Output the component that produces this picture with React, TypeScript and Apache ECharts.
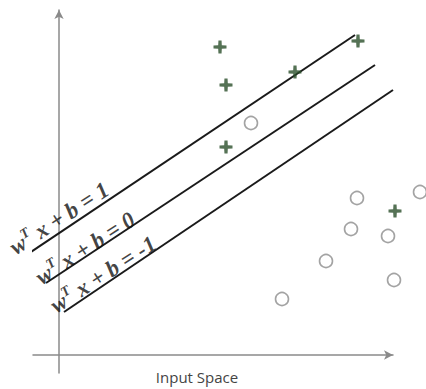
import React, { useEffect, useRef } from "react";
import * as echarts from "echarts";

// Positive class (+) points
const plusX = [161, 167, 236, 299, 167, 336];
const plusY = [308, 270, 283, 314, 208, 144];
// Negative class (o) points
const circleX = [192, 298, 361, 292, 329, 267, 335, 223];
const circleY = [232, 157, 163, 126, 119, 94, 75, 56];
// Hyperplanes: [x0, y0, x1, y1]
const lineNames = ["1", "0", "-1"];
const lineStartX = [-31, -13, 5];
const lineStartY = [101, 72, 43];
const lineEndX = [296, 316, 334];
const lineEndY = [320, 290, 265];
// Label anchors
const labelX = [0, 26, 44];
const labelY = [137, 107, 81];
const xLabel = "Input Space";

export default function App() {
  const ref = useRef<HTMLDivElement>(null);
  useEffect(() => {
    if (!ref.current) return;
    const chart = echarts.init(ref.current, null, { renderer: "svg" });
    const lineSeries = lineNames.map((n, i) => ({
      type: "line",
      name: "b=" + n,
      data: [
        [lineStartX[i], lineStartY[i]],
        [lineEndX[i], lineEndY[i]],
      ],
      symbol: "none",
      clip: false,
      lineStyle: { color: "#1a1a1a", width: 2 },
      z: 2,
    }));
    const serif = {
      fontFamily: "'Liberation Serif'",
      fontStyle: "italic",
      fontWeight: "bold",
      color: "#111111",
      lineHeight: 26,
    };
    chart.setOption({
      animation: false,
      backgroundColor: "#ffffff",
      grid: { left: 33, right: 33, top: 10, bottom: 16 },
      xAxis: {
        type: "value",
        min: -26,
        max: 334,
        splitLine: { show: false },
        axisTick: { show: false },
        axisLabel: { show: false },
        axisLine: {
          onZero: true,
          lineStyle: { color: "#8a8a8a", width: 1.5 },
          symbol: ["none", "arrow"],
          symbolSize: [7, 9],
        },
      },
      yAxis: {
        type: "value",
        min: -18,
        max: 345,
        splitLine: { show: false },
        axisTick: { show: false },
        axisLabel: { show: false },
        axisLine: {
          onZero: true,
          lineStyle: { color: "#8a8a8a", width: 1.5 },
          symbol: ["none", "arrow"],
          symbolSize: [7, 9],
        },
      },
      graphic: [
        {
          type: "text",
          x: 197,
          y: 377,
          style: {
            text: xLabel,
            fill: "#444444",
            font: "15px 'Open Sans'",
            textAlign: "center",
            textVerticalAlign: "middle",
          },
        },
      ],
      series: [
        ...lineSeries,
        {
          type: "scatter",
          name: "plus",
          data: plusX.map((x, i) => [x, plusY[i]]),
          symbol:
            "path://M3.8,0 H6.2 L6.4,3.6 L10,3.8 V6.2 L6.4,6.4 L6.2,10 H3.8 L3.6,6.4 L0,6.2 V3.8 L3.6,3.6 Z",
          symbolSize: 13,
          clip: false,
          itemStyle: { color: "#2a4f2a" },
          z: 3,
        },
        {
          type: "scatter",
          name: "circle",
          data: circleX.map((x, i) => [x, circleY[i]]),
          symbol: "circle",
          symbolSize: 13,
          clip: false,
          itemStyle: { color: "#ffffff", borderColor: "#8c8c8c", borderWidth: 1.6 },
          z: 3,
        },
        {
          type: "scatter",
          name: "labels",
          data: lineNames.map((n, i) => ({ value: [labelX[i], labelY[i]], name: n })),
          symbolSize: 0,
          clip: false,
          silent: true,
          label: {
            show: true,
            position: "inside",
            rotate: 33,
            formatter: (p: any) => "{w|w}{s|T}{t| x + b = " + p.name + "}",
            rich: {
              w: { ...serif, fontSize: 23 },
              s: { ...serif, fontSize: 14, verticalAlign: "top" },
              t: { ...serif, fontSize: 23 },
            },
          },
          z: 4,
        },
      ],
    });
    return () => chart.dispose();
  }, []);
  return (
    <div
      ref={ref}
      style={{ position: "absolute", left: 0, top: 0, width: 426, height: 389 }}
    />
  );
}
